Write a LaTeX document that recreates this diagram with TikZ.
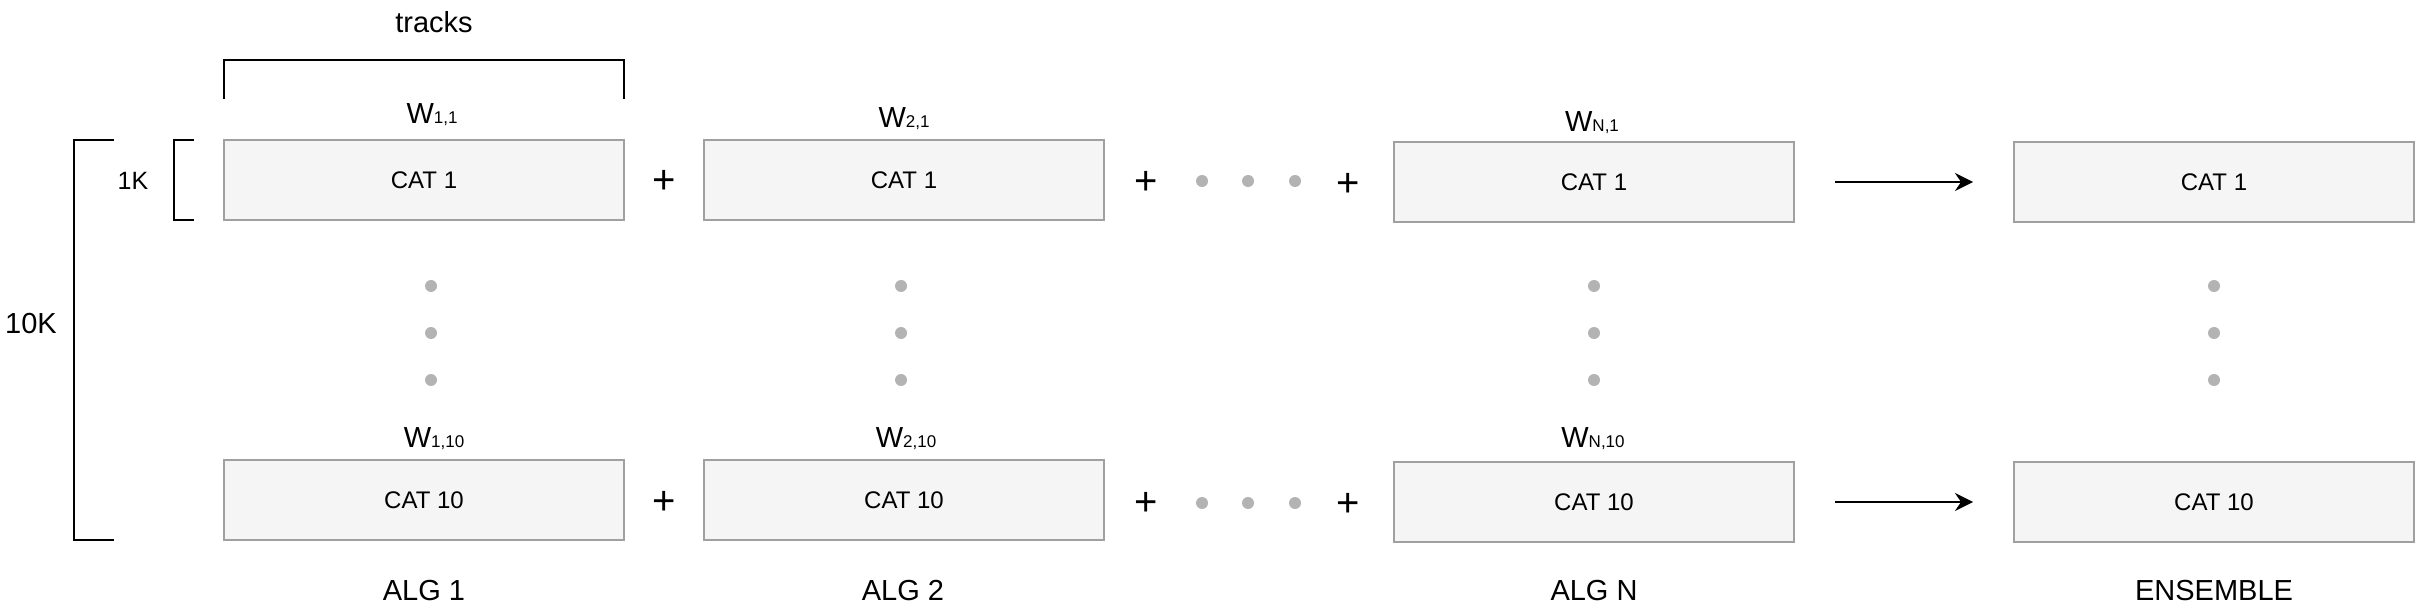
\documentclass[tikz,border=0pt]{standalone}
\usepackage{fontspec}
\setmainfont{Liberation Sans}
\usetikzlibrary{arrows.meta}
\definecolor{boxfill}{HTML}{F5F5F5}
\definecolor{boxline}{HTML}{A0A0A0}
\definecolor{dotgray}{HTML}{B3B3B3}
\newcommand{\fsz}[1]{\fontsize{#1}{#1}\selectfont}
\newcommand{\wlab}[1]{\fsz{29}W{\fsz{17}#1}}
\begin{document}
\begin{tikzpicture}[x=1pt,y=-1pt,
  catbox/.style={draw=boxline, fill=boxfill, line width=2pt, minimum width=400pt, minimum height=80pt, inner sep=0pt, font=\fsz{24}},
  wtxt/.style={inner sep=0pt, anchor=base},
  captxt/.style={inner sep=0pt, anchor=base, font=\fsz{29}},
  plussign/.style={inner sep=0pt, font=\fsz{40}},
  gdot/.style={circle, fill=dotgray, minimum size=12pt, inner sep=0pt},
  brk/.style={draw=black, line width=2pt},
  arr/.style={draw=black, line width=2pt, -{Stealth[length=18pt,width=18pt,inset=6pt]}, shorten <=40pt, shorten >=40pt}
]
\useasboundingbox (0,0) rectangle (2415,609);

% boxes
\node[catbox] (a1) at (424,180) {CAT 1};
\node[catbox] (b1) at (904,180) {CAT 1};
\node[catbox] (n1) at (1594,182) {CAT 1};
\node[catbox] (e1) at (2214,182) {CAT 1};
\node[catbox] (a10) at (424,500) {CAT 10};
\node[catbox] (b10) at (904,500) {CAT 10};
\node[catbox] (n10) at (1594,502) {CAT 10};
\node[catbox] (e10) at (2214,502) {CAT 10};

% weight labels
\node[wtxt] (wa1) at (432,124) {\wlab{1,1}};
\node[wtxt] (wb1) at (904,128) {\wlab{2,1}};
\node[wtxt] (wn1) at (1592,132) {\wlab{N,1}};
\node[wtxt] (wa10) at (434,447) {\wlab{1,10}};
\node[wtxt] (wb10) at (906,447) {\wlab{2,10}};
\node[wtxt] (wn10) at (1593,447) {\wlab{N,10}};

% plus signs and dots, row 1
\node[plussign] (p1a) at (664,182) {+};
\node[plussign] (p1b) at (1146,183) {+};
\node[gdot] (h1a) at (1202,181) {};
\node[gdot] (h1b) at (1248,181) {};
\node[gdot] (h1c) at (1295,181) {};
\node[plussign] (p1c) at (1348,185) {+};

% row 10
\node[plussign] (p10a) at (664,503) {+};
\node[plussign] (p10b) at (1146,504) {+};
\node[gdot] (h10a) at (1202,503) {};
\node[gdot] (h10b) at (1248,503) {};
\node[gdot] (h10c) at (1295,503) {};
\node[plussign] (p10c) at (1348,505) {+};

% vertical dots
\foreach \nm/\xx in {a/431,b/901,n/1594,e/2214}{
  \node[gdot] (v\nm1) at (\xx,286) {};
  \node[gdot] (v\nm2) at (\xx,333) {};
  \node[gdot] (v\nm3) at (\xx,380) {};
}

% arrows
\draw[arr] (n1) -- (e1);
\draw[arr] (n10) -- (e10);

% brackets
\draw[brk] (224,99) -- (224,60) -- (624,60) -- (624,99);
\draw[brk] (194,140) -- (174,140) -- (174,220) -- (194,220);
\draw[brk] (114,140) -- (74,140) -- (74,540) -- (114,540);

% labels
\node[inner sep=0pt, anchor=base, font=\fsz{29}] (tracks) at (434,33) {tracks};
\node[inner sep=0pt, font=\fsz{25}] (k1) at (133,181) {1K};
\node[captxt] (k10) at (31,334) {10K};
\node[captxt] (alg1) at (424,600) {ALG 1};
\node[captxt] (alg2) at (903,600) {ALG 2};
\node[captxt] (algn) at (1594,600) {ALG N};
\node[captxt] (ens) at (2214,600) {ENSEMBLE};
\end{tikzpicture}
\end{document}
